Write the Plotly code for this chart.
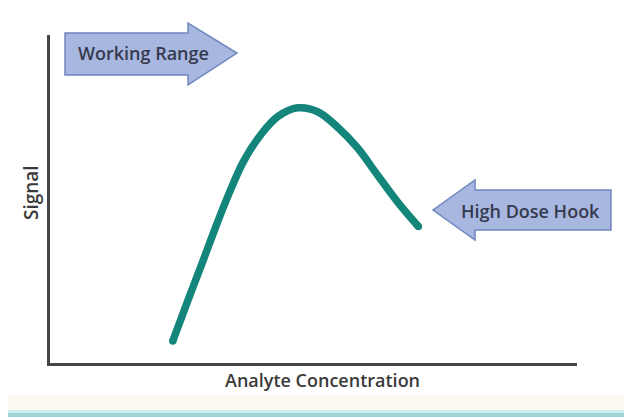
import plotly.graph_objects as go

# ---- data (arbitrary units) ----
concentration = [2.33, 2.61, 2.90, 3.14, 3.39, 3.67, 4.00, 4.32, 4.70, 5.08, 5.45, 5.83, 6.21, 6.59, 6.99]
signal = [0.67, 1.88, 3.10, 4.13, 5.14, 6.14, 6.96, 7.51, 7.78, 7.66, 7.20, 6.57, 5.74, 4.92, 4.16]
x_title = "Analyte Concentration"
y_title = "Signal"
label_left = "Working Range"
label_right = "High Dose Hook"

# ---- layout geometry (page pixels; the page body has an 8px margin) ----
OFF = 8
PAGE_W, PAGE_H = 632, 417
FIG_W, FIG_H = PAGE_W - OFF, PAGE_H - OFF
PLOT_L, PLOT_R, PLOT_T, PLOT_B = 50, 577, 35, 363   # page pixels
M_L, M_R, M_T, M_B = PLOT_L - OFF, PAGE_W - PLOT_R, PLOT_T - OFF, PAGE_H - PLOT_B
PW = PLOT_R - PLOT_L
PH = PLOT_B - PLOT_T

TEAL = "#14857a"
ARROW_FILL = "#a7b7e0"
ARROW_LINE = "#6f87bd"
TXT = "#363a4e"
AXTXT = "#3a3a3a"
FONT = "Open Sans"


def px(x, y):
    """page pixel -> paper coordinates"""
    return (x - PLOT_L) / PW, (PLOT_B - y) / PH


def poly(points):
    parts = []
    for i, (x, y) in enumerate(points):
        a, b = px(x, y)
        parts.append(("M" if i == 0 else "L") + f"{a:.4f},{b:.4f}")
    return " ".join(parts) + " Z"


fig = go.Figure()
fig.add_trace(go.Scatter(
    x=concentration, y=signal, mode="lines",
    line=dict(color=TEAL, width=7.5, shape="spline", smoothing=1.0),
    hoverinfo="skip", showlegend=False,
))
# round line caps at both ends
fig.add_trace(go.Scatter(
    x=[concentration[0], concentration[-1]], y=[signal[0], signal[-1]],
    mode="markers", marker=dict(color=TEAL, size=7.5, line=dict(width=0)),
    hoverinfo="skip", showlegend=False,
))

shapes = []
# bottom decoration bands
x0, _ = px(8, 0)
x1, _ = px(640, 0)
_, yc0 = px(0, 395)
_, yc1 = px(0, 410)
_, yt1 = px(0, 413)
_, yt2 = px(0, 420)
shapes.append(dict(type="rect", xref="paper", yref="paper", x0=x0, x1=x1, y0=yc1, y1=yc0,
                   fillcolor="#fcfaf0", line=dict(width=0), layer="below"))
shapes.append(dict(type="rect", xref="paper", yref="paper", x0=x0, x1=x1, y0=yt1, y1=yc1,
                   fillcolor="#c9ecec", line=dict(width=0)))
shapes.append(dict(type="rect", xref="paper", yref="paper", x0=x0, x1=x1, y0=yt2, y1=yt1,
                   fillcolor="#9fd5d7", line=dict(width=0)))

# arrows
wr = [(65, 33), (188, 33), (188, 23), (237, 53), (188, 85), (188, 75), (65, 75)]
hd = [(611, 190), (475, 190), (475, 180), (433, 210), (475, 240), (475, 230), (611, 230)]
for pts in (wr, hd):
    shapes.append(dict(type="path", xref="paper", yref="paper", path=poly(pts),
                       fillcolor=ARROW_FILL, line=dict(color=ARROW_LINE, width=1.5)))

ann = []
ax, ay = px(143, 53)
ann.append(dict(xref="paper", yref="paper", x=ax, y=ay, text=label_left, showarrow=False,
                font=dict(family=FONT, size=18, color=TXT, weight=600),
                xanchor="center", yanchor="middle"))
bx, by = px(530, 211)
ann.append(dict(xref="paper", yref="paper", x=bx, y=by, text=label_right, showarrow=False,
                font=dict(family=FONT, size=18, color=TXT, weight=600),
                xanchor="center", yanchor="middle"))
# axis titles
tx, ty = px(322, 380)
ann.append(dict(xref="paper", yref="paper", x=tx, y=ty, text=x_title, showarrow=False,
                font=dict(family=FONT, size=18, color=AXTXT, weight=600),
                xanchor="center", yanchor="middle"))
sx, sy = px(31, 193)
ann.append(dict(xref="paper", yref="paper", x=sx, y=sy, text=y_title, showarrow=False,
                textangle=-90,
                font=dict(family=FONT, size=19, color=AXTXT, weight=600),
                xanchor="center", yanchor="middle"))

fig.update_layout(
    width=FIG_W, height=FIG_H,
    margin=dict(l=M_L, r=M_R, t=M_T, b=M_B),
    paper_bgcolor="white", plot_bgcolor="white",
    shapes=shapes, annotations=ann,
    xaxis=dict(range=[0, 10], showgrid=False, zeroline=False, showticklabels=False, ticks="",
               showline=True, linecolor="#454545", linewidth=3),
    yaxis=dict(range=[0, 10], showgrid=False, zeroline=False, showticklabels=False, ticks="",
               showline=True, linecolor="#454545", linewidth=3),
)

fig.write_html("out.html")
